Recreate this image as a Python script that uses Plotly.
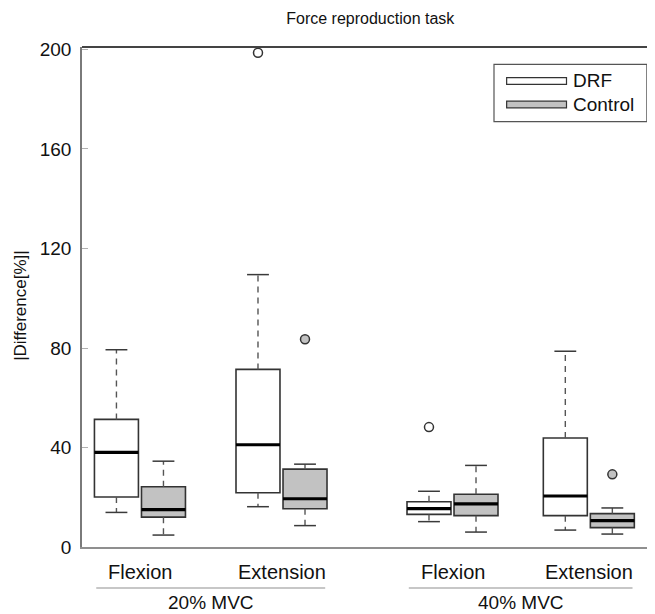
import plotly.graph_objects as go

# ---------------- data ----------------
conditions = ["Flexion", "Extension", "Flexion", "Extension"]
levels = ["20% MVC", "40% MVC"]
series_names = ["DRF", "Control"]

drf_lower = [13.9, 16.2, 10.2, 6.8]
drf_q1 = [20.1, 21.8, 13.1, 12.6]
drf_median = [38.0, 41.1, 15.4, 20.5]
drf_q3 = [51.3, 71.4, 18.2, 43.8]
drf_upper = [79.3, 109.5, 22.4, 78.7]
drf_outliers = [None, 198.7, 48.2, None]

ctrl_lower = [4.8, 8.6, 6.0, 5.2]
ctrl_q1 = [12.0, 15.4, 12.6, 7.8]
ctrl_median = [15.0, 19.4, 17.3, 10.6]
ctrl_q3 = [24.2, 31.3, 21.2, 13.4]
ctrl_upper = [34.5, 33.3, 32.8, 15.7]
ctrl_outliers = [None, 83.5, None, 29.2]

y_ticks = [0, 40, 80, 120, 160, 200]

# ---------------- layout positions ----------------
x_range = [0, 12]
cond_centers = [1.22, 4.2, 7.8, 10.67]
level_groups = [[0, 1], [2, 3]]
pair_offset = 0.495
box_width = 0.926
cap_half = 0.23
sep_pad = 0.92

drf_fill = "white"
ctrl_fill = "#c2c2c2"
box_line = "#333333"
FONT = "Liberation Sans, Arial, Helvetica, sans-serif"

# page has 8px default body margin -> figure is drawn at (8, 8)
W, H = 647, 606
PLOT_H = 500

fig = go.Figure()


def add_series(xs, lo, q1, med, q3, hi, outs, fill, name):
    fig.add_trace(go.Box(
        x=xs, q1=q1, median=med, q3=q3, lowerfence=q1, upperfence=q3,
        width=box_width, fillcolor=fill, line=dict(color=box_line, width=1.6),
        whiskerwidth=0, boxpoints=False, name=name, showlegend=False,
        hoverinfo="skip"))
    # whiskers (dashed)
    wx, wy = [], []
    for x, a, b, c, d in zip(xs, lo, q1, q3, hi):
        wx += [x, x, None, x, x, None]
        wy += [c, d, None, b, a, None]
    fig.add_trace(go.Scatter(x=wx, y=wy, mode="lines", showlegend=False,
                             line=dict(color="#555555", width=1.4, dash="6px,5px"),
                             hoverinfo="skip"))
    # caps
    cx, cy = [], []
    for x, a, d in zip(xs, lo, hi):
        cx += [x - cap_half, x + cap_half, None, x - cap_half, x + cap_half, None]
        cy += [d, d, None, a, a, None]
    fig.add_trace(go.Scatter(x=cx, y=cy, mode="lines", showlegend=False,
                             line=dict(color="#3a3a3a", width=1.5),
                             hoverinfo="skip"))
    # medians
    mx, my = [], []
    for x, m in zip(xs, med):
        mx += [x - box_width / 2, x + box_width / 2, None]
        my += [m, m, None]
    fig.add_trace(go.Scatter(x=mx, y=my, mode="lines", showlegend=False,
                             line=dict(color="black", width=3.2),
                             hoverinfo="skip"))
    # outliers
    ox = [x for x, o in zip(xs, outs) if o is not None]
    oy = [o for o in outs if o is not None]
    fig.add_trace(go.Scatter(x=ox, y=oy, mode="markers", showlegend=False,
                             marker=dict(symbol="circle", size=9, color=fill,
                                         line=dict(color="#333333", width=1.5)),
                             hoverinfo="skip"))


drf_x = [c - pair_offset for c in cond_centers]
ctrl_x = [c + pair_offset for c in cond_centers]
add_series(drf_x, drf_lower, drf_q1, drf_median, drf_q3, drf_upper, drf_outliers,
           drf_fill, series_names[0])
add_series(ctrl_x, ctrl_lower, ctrl_q1, ctrl_median, ctrl_q3, ctrl_upper, ctrl_outliers,
           ctrl_fill, series_names[1])


def to_paper(xv):
    return (xv - x_range[0]) / (x_range[1] - x_range[0])


annotations = []
shapes = []
for c, lab in zip(cond_centers, conditions):
    annotations.append(dict(x=c, xref="x", y=-0.05, yref="paper", text=lab,
                            showarrow=False, yanchor="middle",
                            font=dict(size=20, color="#111", family=FONT)))
for grp, lev in zip(level_groups, levels):
    a, b = cond_centers[grp[0]], cond_centers[grp[1]]
    annotations.append(dict(x=(a + b) / 2, xref="x", y=-0.111, yref="paper", text=lev,
                            showarrow=False, yanchor="middle",
                            font=dict(size=19, color="#111", family=FONT)))
    shapes.append(dict(type="line", xref="paper", yref="paper",
                       x0=to_paper(a - sep_pad), x1=to_paper(b + sep_pad),
                       y0=-0.082, y1=-0.082,
                       line=dict(color="#b5b5b5", width=1.5)))

# y-axis title
annotations.append(dict(x=-0.109, xref="paper", y=0.484, yref="paper",
                        text="|Difference[%]|", textangle=-90, showarrow=False,
                        xanchor="center", yanchor="middle",
                        font=dict(size=17, color="#111", family=FONT)))

# top border
shapes.append(dict(type="line", xref="paper", yref="paper", x0=0, x1=1, y0=1, y1=1,
                   line=dict(color="#444444", width=2)))

# manual legend
shapes.append(dict(type="rect", xref="paper", yref="paper",
                   x0=0.7228, x1=0.991, y0=0.8506, y1=0.9654,
                   line=dict(color="#555555", width=1.2), fillcolor="white"))
legend_fills = [drf_fill, ctrl_fill]
legend_y = [0.932, 0.885]
for name, fc, ly in zip(series_names, legend_fills, legend_y):
    shapes.append(dict(type="rect", xref="paper", yref="paper",
                       x0=0.745, x1=0.850, y0=ly - 0.0066, y1=ly + 0.0066,
                       line=dict(color="#333333", width=1.2), fillcolor=fc))
    annotations.append(dict(x=0.8585, xref="paper", y=ly, yref="paper", text=name,
                            showarrow=False, xanchor="left", yanchor="middle",
                            font=dict(size=19, color="#111", family=FONT)))

fig.update_layout(
    width=W, height=H,
    margin=dict(l=74, r=3, t=39, b=H - 39 - PLOT_H),
    paper_bgcolor="white", plot_bgcolor="white",
    title=dict(text="Force reproduction task", x=0.56, xanchor="center",
               y=1 - 10 / H, yanchor="middle",
               font=dict(size=16, color="#111", family=FONT)),
    font=dict(family=FONT, color="#111"),
    showlegend=False,
    annotations=annotations,
    shapes=shapes,
    xaxis=dict(range=x_range, showticklabels=False, ticks="", showgrid=False,
               zeroline=False, showline=True, linecolor="#8f8f8f", linewidth=2),
    yaxis=dict(range=[0, 201], tickvals=y_ticks, ticktext=[str(v) for v in y_ticks],
               ticks="inside", ticklen=6, tickcolor="#b0b0b0", tickwidth=1,
               showgrid=False, zeroline=False, showline=True,
               linecolor="#7a7a7a", linewidth=1.5, ticklabelstandoff=5,
               tickfont=dict(size=19, color="#111", family=FONT)),
)

fig.write_html("out.html")
